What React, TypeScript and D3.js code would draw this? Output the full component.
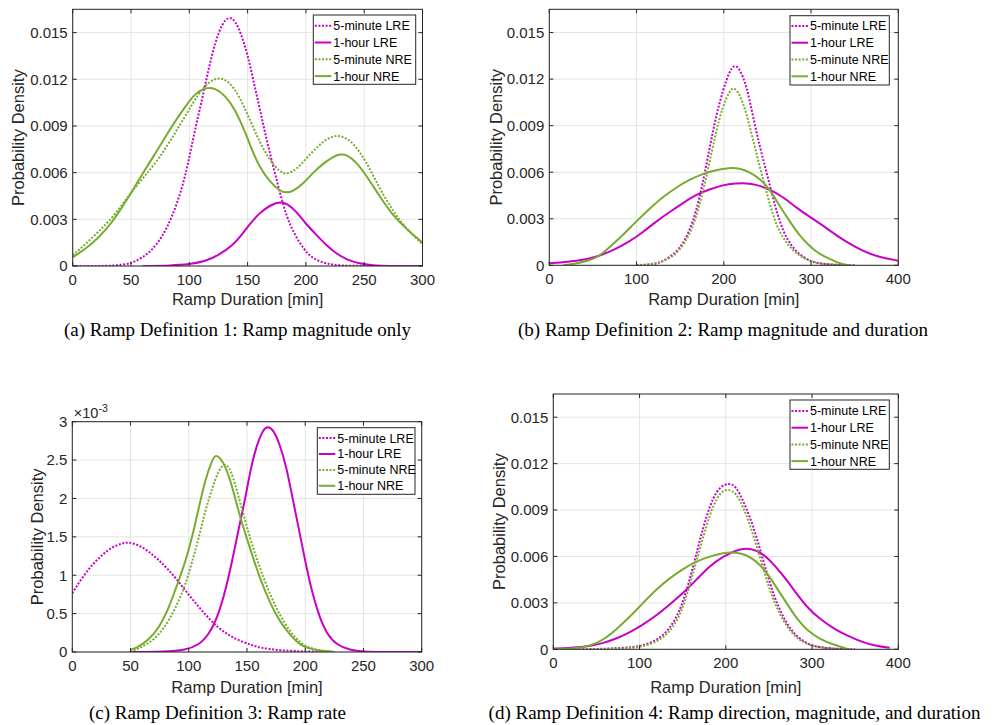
import React from 'react';
import * as d3 from 'd3';

type Pt = [number, number];

const MAG = '#C800C8';
const GRN = '#77AC30';
const AXC = '#262626';

const seriesNames = ['5-minute LRE', '1-hour LRE', '5-minute NRE', '1-hour NRE'];
const seriesColors = [MAG, MAG, GRN, GRN];
const seriesDotted = [true, false, true, false];

// ---------- Panel (a) ----------
const aLRE5: Pt[] = [[0,0],[30,0],[42,0.00006],[51,0.0002],[59,0.0005],[68,0.001],[77,0.0019],[85,0.0031],[94,0.005],[99.5,0.0068],[105,0.0088],[111,0.0107],[116.6,0.0127],[122.3,0.0144],[128,0.01556],[133.7,0.01605],[139.4,0.0158],[145,0.0148],[150,0.0136],[155,0.0119],[160.5,0.0101],[166,0.0082],[172,0.0064],[177.7,0.0047],[183.4,0.0032],[189,0.0022],[197.7,0.0011],[206,0.00045],[218,0.00013],[230,0.00002],[250,0],[300,0]];
const aLRE1: Pt[] = [[60,0],[85,0.00003],[100,0.0001],[114,0.0003],[125,0.0007],[137,0.0013],[145,0.002],[152,0.0027],[160,0.0034],[169,0.0039],[178,0.00414],[184,0.004],[192,0.0035],[200,0.0027],[209,0.002],[218,0.0013],[226,0.0008],[235,0.0004],[246,0.00015],[257,0.00004],[270,0],[300,0]];
const aNRE5: Pt[] = [[0,0.0007],[11,0.0014],[22,0.0022],[34,0.0031],[45,0.0042],[51,0.0048],[62,0.0058],[74,0.0069],[85,0.0082],[97,0.0097],[108,0.0111],[117,0.01185],[125,0.01213],[134,0.0119],[143,0.0109],[152,0.0094],[160,0.008],[169,0.0068],[178,0.006],[184,0.0059],[192,0.0062],[200,0.0069],[209,0.0076],[218,0.0082],[226,0.0084],[232,0.0083],[240,0.008],[252,0.0067],[263,0.005],[275,0.0035],[286,0.0024],[300,0.0014]];
const aNRE1: Pt[] = [[0,0.00056],[11,0.0011],[22,0.0018],[34,0.0028],[45,0.0041],[51,0.0048],[62,0.0062],[74,0.0076],[85,0.009],[97,0.0103],[105,0.0111],[114,0.01149],[122,0.01144],[131,0.01095],[139,0.0101],[148,0.0086],[154,0.0074],[160,0.0064],[169,0.0054],[178,0.0048],[183,0.0047],[189,0.0048],[198,0.0053],[206,0.006],[215,0.0066],[223,0.007],[229,0.0072],[235,0.00716],[243,0.0067],[252,0.0058],[263,0.0045],[275,0.0032],[286,0.0024],[300,0.0015]];

// ---------- Panel (b) ----------
const bLRE5: Pt[] = [[100,0],[114,0.00003],[125,0.0001],[137,0.0005],[149,0.001],[160,0.0021],[168,0.0034],[176,0.0053],[183.5,0.0075],[191,0.0096],[199,0.0113],[206.5,0.0125],[212,0.01294],[218,0.0127],[226,0.0116],[233.5,0.0096],[241,0.0077],[249,0.006],[256.5,0.0043],[264,0.0028],[272,0.0017],[283.5,0.0008],[299,0.00026],[310,0.0001],[330,0.00002],[350,0]];
const bLRE1: Pt[] = [[0,0.00013],[20,0.0002],[45,0.0004],[60,0.00066],[76,0.00105],[91,0.0015],[106.5,0.0021],[122,0.0028],[137,0.0034],[153,0.004],[168,0.00455],[183.5,0.0049],[199,0.00518],[214,0.00528],[226,0.0053],[237,0.0052],[253,0.0049],[268,0.0044],[283.5,0.0037],[299,0.0031],[310,0.0027],[320,0.0023],[330,0.0019],[341,0.0015],[360,0.0009],[379,0.0005],[400,0.0003]];
const bNRE5: Pt[] = [[100,0],[122,0.0001],[137,0.0004],[149,0.0009],[160,0.0019],[168,0.003],[176,0.0047],[183.5,0.0066],[191,0.0086],[199,0.0103],[206.5,0.0112],[211,0.0115],[218,0.0111],[226,0.0098],[233.5,0.0081],[241,0.0064],[249,0.0047],[256.5,0.0032],[264,0.0021],[276,0.0011],[291,0.0004],[310,0.0001],[330,0.00002],[345,0]];
const bNRE1: Pt[] = [[16,0],[30,0.0001],[45,0.0003],[56.5,0.00055],[68,0.0011],[83.5,0.0019],[99,0.0028],[114,0.0036],[130,0.0044],[145,0.005],[160,0.0055],[176,0.0059],[191,0.00615],[206.5,0.00628],[218,0.00626],[230,0.006],[241,0.0056],[253,0.0049],[264,0.0038],[276,0.0028],[287,0.0019],[299,0.0012],[310,0.0007],[322,0.0004],[333,0.0001],[343,0]];

// ---------- Panel (c) (values in 1e-3) ----------
const cLRE5: Pt[] = [[0,0.765],[8,0.96],[17,1.135],[25.5,1.265],[34,1.365],[42.7,1.417],[48.4,1.43],[57,1.395],[65.6,1.31],[74.2,1.2],[82.7,1.07],[91.3,0.917],[100,0.743],[108.5,0.59],[117,0.44],[125.7,0.31],[134.3,0.22],[143,0.15],[154,0.09],[161,0.055],[178,0.02],[201,0.005],[225,0]];
const cLRE1: Pt[] = [[50,0],[80,0.005],[97,0.026],[108.5,0.09],[117,0.22],[125.7,0.48],[134.3,0.96],[143,1.62],[148.6,2.0],[152.6,2.35],[158.3,2.7],[164,2.9],[167.5,2.94],[172.6,2.9],[178.3,2.7],[184,2.4],[189.7,1.96],[195.5,1.53],[201.2,1.09],[206.9,0.72],[212.6,0.44],[218.4,0.24],[227,0.09],[238.4,0.026],[250,0.005],[265,0],[300,0]];
const cNRE5: Pt[] = [[50,0],[57,0.048],[65.6,0.113],[74.2,0.22],[82.7,0.4],[91.3,0.66],[97,0.87],[103,1.18],[108.5,1.48],[114,1.83],[120,2.13],[125.7,2.37],[130.5,2.46],[136,2.4],[143.5,1.98],[152.6,1.48],[161,1.09],[170,0.74],[178,0.48],[187,0.265],[195.5,0.12],[204,0.048],[215,0.013],[225,0]];
const cNRE1: Pt[] = [[50,0.026],[57,0.07],[65.6,0.157],[74.2,0.31],[82.7,0.56],[91.3,0.93],[97,1.17],[103,1.5],[108.5,1.87],[114,2.24],[120,2.5],[122.8,2.57],[127,2.53],[131.4,2.42],[137,2.18],[143.5,1.78],[152.6,1.35],[161,0.96],[170,0.63],[178,0.4],[187,0.22],[195.5,0.09],[204,0.04],[215,0.013],[225,0]];

// ---------- Panel (d) ----------
const dLRE5: Pt[] = [[0,0],[50,0],[81,0.0001],[100,0.00017],[120,0.00056],[135,0.0013],[147,0.0025],[154.4,0.0038],[162,0.0053],[170,0.0071],[177.6,0.0086],[185.3,0.0098],[193,0.0105],[204,0.01077],[212.4,0.0105],[220,0.0096],[227.8,0.0086],[235.5,0.0073],[243,0.0058],[251,0.0043],[258.7,0.003],[270,0.0017],[282,0.0008],[297,0.00028],[309,0.00013],[330,0.00002],[350,0]];
const dLRE1: Pt[] = [[0,0.00005],[20,0.0001],[42.5,0.0002],[58,0.0004],[73.4,0.0007],[88.8,0.0011],[104,0.0016],[120,0.0022],[135,0.0029],[150,0.0036],[166,0.0045],[181.5,0.0054],[197,0.006],[212.4,0.00642],[224,0.00655],[235.5,0.0064],[247,0.006],[258.7,0.0053],[270.3,0.0045],[282,0.0036],[293.4,0.00276],[309,0.00195],[325,0.00135],[340,0.0009],[359,0.00045],[375,0.0002],[390,0.0001]];
const dNRE5: Pt[] = [[0,0],[50,0],[81,0.00005],[100,0.00013],[120,0.00045],[135,0.0011],[147,0.0022],[154.4,0.0034],[162,0.0049],[170,0.0065],[177.6,0.008],[185.3,0.0093],[193,0.0101],[202,0.0104],[212.4,0.0101],[220,0.0092],[227.8,0.0081],[235.5,0.0067],[243,0.0053],[251,0.0038],[258.7,0.0027],[270,0.0015],[282,0.0007],[297,0.00024],[320,0.00003],[345,0]];
const dNRE1: Pt[] = [[0,0],[20,0.00003],[42.5,0.0002],[58,0.0006],[73.4,0.0013],[88.8,0.0021],[104,0.003],[120,0.0039],[135,0.0046],[150.6,0.0052],[166,0.0057],[181.5,0.006],[197,0.00625],[212.4,0.00627],[224,0.0061],[235.5,0.0057],[247,0.005],[258.7,0.004],[270.3,0.003],[282,0.002],[293.4,0.00125],[309,0.00065],[325,0.0003],[342,0]];

// ---------- Ticks and captions ----------
const xTicks300 = [0, 50, 100, 150, 200, 250, 300];
const xTicks400 = [0, 100, 200, 300, 400];
const yTicksDensity = [0, 0.003, 0.006, 0.009, 0.012, 0.015];
const yTicksRate = [0, 0.5, 1, 1.5, 2, 2.5, 3];

const captions = [
  '(a) Ramp Definition 1: Ramp magnitude only',
  '(b) Ramp Definition 2: Ramp magnitude and duration',
  '(c) Ramp Definition 3: Ramp rate',
  '(d) Ramp Definition 4: Ramp direction, magnitude, and duration',
];

const fmtDensity = (v: number) => (v === 0 ? '0' : v.toFixed(3));
const fmtRate = (v: number) => String(v);

interface Cfg {
  id: string;
  left: number; right: number; top: number; bottom: number;
  xMax: number; yMax: number;
  xTicks: number[]; yTicks: number[]; yFmt: (v: number) => string;
  yLabelX: number; labelY: number;
  legend: { x: number; y: number; w: number; h: number; row0: number; step: number };
  caption: string; capX: number; capY: number;
  exponent?: boolean;
  data: Pt[][];
}

const panels: Cfg[] = [
  {
    id: 'a', left: 72.7, right: 422.5, top: 9.3, bottom: 266, xMax: 300, yMax: 0.0165,
    xTicks: xTicks300, yTicks: yTicksDensity, yFmt: fmtDensity, yLabelX: 18.5, labelY: 305,
    legend: { x: 313.3, y: 15, w: 102.4, h: 69.3, row0: 10.7, step: 16.8 },
    caption: captions[0], capX: 237.5, capY: 336,
    data: [aLRE5, aLRE1, aNRE5, aNRE1],
  },
  {
    id: 'b', left: 549.3, right: 898.3, top: 9.3, bottom: 265.3, xMax: 400, yMax: 0.0165,
    xTicks: xTicks400, yTicks: yTicksDensity, yFmt: fmtDensity, yLabelX: 495.8, labelY: 305,
    legend: { x: 790, y: 15.7, w: 99.3, h: 69.3, row0: 10.2, step: 16.8 },
    caption: captions[1], capX: 723, capY: 336,
    data: [bLRE5, bLRE1, bNRE5, bNRE1],
  },
  {
    id: 'c', left: 72.3, right: 421.7, top: 421.7, bottom: 652, xMax: 300, yMax: 3,
    xTicks: xTicks300, yTicks: yTicksRate, yFmt: fmtRate, yLabelX: 36.7, labelY: 693,
    legend: { x: 317.3, y: 427.7, w: 97.7, h: 66.6, row0: 10.4, step: 15.9 },
    caption: captions[2], capX: 217.5, capY: 719, exponent: true,
    data: [cLRE5, cLRE1, cNRE5, cNRE1],
  },
  {
    id: 'd', left: 553.3, right: 898.3, top: 394, bottom: 649.3, xMax: 400, yMax: 0.0165,
    xTicks: xTicks400, yTicks: yTicksDensity, yFmt: fmtDensity, yLabelX: 499.2, labelY: 693,
    legend: { x: 790, y: 400, w: 99.3, h: 69.3, row0: 11, step: 16.7 },
    caption: captions[3], capX: 734.5, capY: 719,
    data: [dLRE5, dLRE1, dNRE5, dNRE1],
  },
];

const SANS = '"Liberation Sans", Arial, Helvetica, sans-serif';
const SERIF = '"Liberation Serif", "Times New Roman", serif';
const DOT = '2 1.6';

function Panel({ cfg }: { cfg: Cfg }) {
  const x = d3.scaleLinear().domain([0, cfg.xMax]).range([cfg.left, cfg.right]);
  const y = d3.scaleLinear().domain([0, cfg.yMax]).range([cfg.bottom, cfg.top]);
  const line = d3.line<Pt>().x(d => x(d[0])).y(d => y(d[1])).curve(d3.curveBasis);
  const tl = 4;
  const clipId = `clip-${cfg.id}`;
  const lg = cfg.legend;
  return (
    <g>
      <defs>
        <clipPath id={clipId}>
          <rect x={cfg.left} y={cfg.top} width={cfg.right - cfg.left} height={cfg.bottom - cfg.top} />
        </clipPath>
      </defs>
      <rect x={cfg.left} y={cfg.top} width={cfg.right - cfg.left} height={cfg.bottom - cfg.top} fill="#fff" />
      {cfg.xTicks.map(t => (
        <line key={'gx' + t} x1={x(t)} x2={x(t)} y1={cfg.top} y2={cfg.bottom} stroke="#e4e4e4" strokeWidth={1} />
      ))}
      {cfg.yTicks.map(t => (
        <line key={'gy' + t} x1={cfg.left} x2={cfg.right} y1={y(t)} y2={y(t)} stroke="#e4e4e4" strokeWidth={1} />
      ))}
      <g clipPath={`url(#${clipId})`}>
        {cfg.data.map((d, i) => (
          <path key={i} d={line(d) || ''} fill="none" stroke={seriesColors[i]} strokeWidth={2}
            strokeDasharray={seriesDotted[i] ? DOT : undefined} strokeLinejoin="round" />
        ))}
      </g>
      <rect x={cfg.left} y={cfg.top} width={cfg.right - cfg.left} height={cfg.bottom - cfg.top}
        fill="none" stroke={AXC} strokeWidth={1} />
      {cfg.xTicks.map(t => (
        <g key={'tx' + t}>
          <line x1={x(t)} x2={x(t)} y1={cfg.bottom} y2={cfg.bottom - tl} stroke={AXC} />
          <line x1={x(t)} x2={x(t)} y1={cfg.top} y2={cfg.top + tl} stroke={AXC} />
          <text x={x(t)} y={cfg.bottom + 18.5} textAnchor="middle" fontFamily={SANS} fontSize={15} fill={AXC}>{t}</text>
        </g>
      ))}
      {cfg.yTicks.map(t => (
        <g key={'ty' + t}>
          <line x1={cfg.left} x2={cfg.left + tl} y1={y(t)} y2={y(t)} stroke={AXC} />
          <line x1={cfg.right} x2={cfg.right - tl} y1={y(t)} y2={y(t)} stroke={AXC} />
          <text x={cfg.left - 5} y={y(t) + 5.3} textAnchor="end" fontFamily={SANS} fontSize={15} fill={AXC}>{cfg.yFmt(t)}</text>
        </g>
      ))}
      {cfg.exponent && (
        <text x={cfg.left + 1.5} y={cfg.top - 3.5} fontFamily={SANS} fontSize={14.5} fill={AXC}>
          ×10<tspan dy={-6} fontSize={10.5}>-3</tspan>
        </text>
      )}
      <text x={(cfg.left + cfg.right) / 2} y={cfg.labelY} textAnchor="middle" fontFamily={SANS} fontSize={16.5} fill={AXC}>
        Ramp Duration [min]
      </text>
      <text transform={`translate(${cfg.yLabelX + 5.8},${(cfg.top + cfg.bottom) / 2}) rotate(-90)`} textAnchor="middle"
        fontFamily={SANS} fontSize={16.5} fill={AXC}>Probability Density</text>
      <rect x={lg.x} y={lg.y} width={lg.w} height={lg.h} fill="#fff" stroke={AXC} strokeWidth={1} />
      {seriesNames.map((n, i) => {
        const ry = lg.y + lg.row0 + i * lg.step;
        return (
          <g key={n}>
            <line x1={lg.x + 1.5} x2={lg.x + 18} y1={ry} y2={ry} stroke={seriesColors[i]} strokeWidth={2}
              strokeDasharray={seriesDotted[i] ? DOT : undefined} />
            <text x={lg.x + 20} y={ry + 4.4} fontFamily={SANS} fontSize={12.5} fill="#000">{n}</text>
          </g>
        );
      })}
      <text x={cfg.capX} y={cfg.capY} textAnchor="middle" fontFamily={SERIF} fontSize={19} fill="#000">{cfg.caption}</text>
    </g>
  );
}

export default function App() {
  return (
    <svg width={997} height={725} viewBox="0 0 997 725"
      style={{ position: 'absolute', left: 0, top: 0, background: '#fff' }}>
      <rect x={0} y={0} width={997} height={725} fill="#fff" />
      {panels.map(p => <Panel key={p.id} cfg={p} />)}
    </svg>
  );
}
